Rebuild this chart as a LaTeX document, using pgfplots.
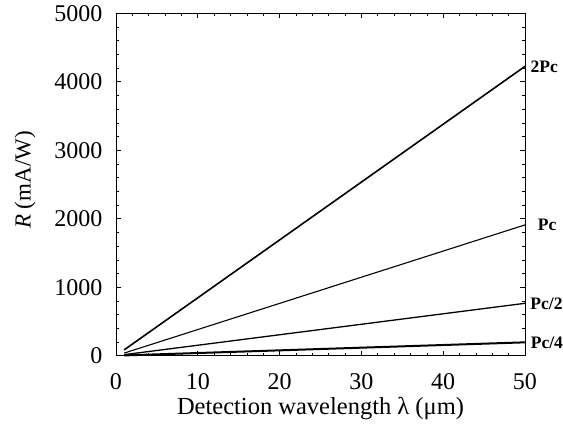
\documentclass[border=0pt]{standalone}
\usepackage{pgfplots}
\pgfplotsset{compat=1.18}
\usepackage{fontspec}
\setmainfont{Liberation Serif}
\begin{document}
\begin{tikzpicture}[x=1pt,y=1pt]
\path[use as bounding box] (-116,-71.3) rectangle (447,355.7);
\begin{axis}[
  at={(0,0)}, anchor=south west,
  scale only axis, width=409pt, height=342.4pt,
  xmin=0, xmax=50, ymin=0, ymax=5000,
  xtick={0,10,20,30,40,50}, ytick={0,1000,2000,3000,4000,5000},
  minor x tick num=4, minor y tick num=4,
  tick align=inside, ticks=both,
  xtick pos=both, ytick pos=both,
  xticklabel pos=lower, yticklabel pos=left,
  major tick length=5pt, minor tick length=3pt,
  tick style={black, line width=0.6pt},
  axis line style={line width=0.9pt},
  scaled y ticks=false,
  /pgf/number format/assume math mode=true,
  /pgf/number format/1000 sep={},
  tick label style={font=\fontsize{24}{28}\selectfont},
  xticklabel style={yshift=-14pt},
  yticklabel style={xshift=-10pt},
  xlabel={Detection wavelength λ (μm)},
  ylabel={\textit{R} (mA/W)},
  xlabel style={font=\fontsize{24.5}{28}\selectfont, at={(axis description cs:0.5,-0.153)}, anchor=center},
  ylabel style={font=\fontsize{23}{28}\selectfont, at={(axis description cs:-0.222,0.513)}, anchor=center, rotate=0},
  clip=false,
]
\addplot[black, line width=1.6pt] coordinates {(1,85) (50,4225)}
  node[pos=1, anchor=west, xshift=1.5pt, font=\fontsize{17.5}{20}\selectfont\bfseries] {2Pc};
\addplot[black, line width=1.1pt] coordinates {(1,38) (50,1910)}
  node[pos=1, anchor=west, xshift=9pt, font=\fontsize{17.5}{20}\selectfont\bfseries] {Pc};
\addplot[black, line width=1.3pt] coordinates {(1,15) (50,765)}
  node[pos=1, anchor=west, xshift=1.5pt, font=\fontsize{17.5}{20}\selectfont\bfseries] {Pc/2};
\addplot[black, line width=2.0pt] coordinates {(1,4) (50,195)}
  node[pos=1, anchor=west, xshift=1.5pt, font=\fontsize{17.5}{20}\selectfont\bfseries] {Pc/4};
\end{axis}
\end{tikzpicture}
\end{document}
